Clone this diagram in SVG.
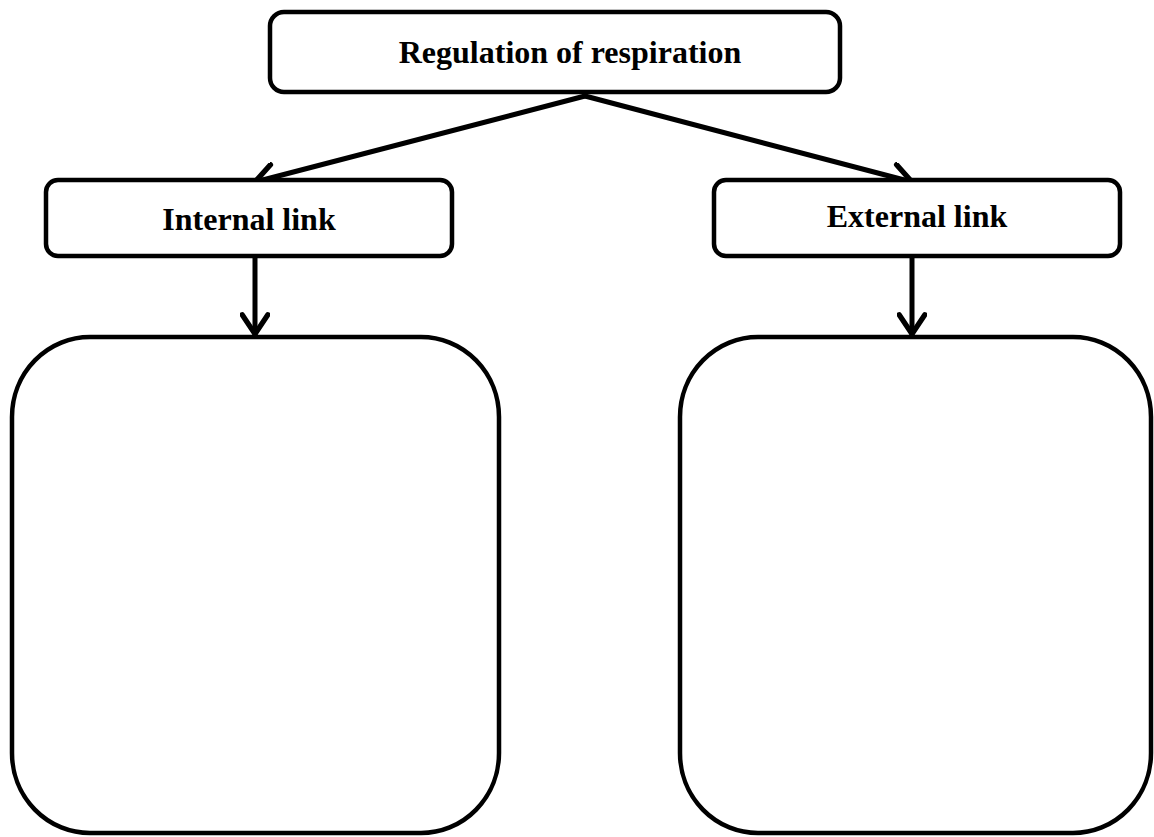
<svg xmlns="http://www.w3.org/2000/svg" width="1154" height="837" viewBox="0 0 1154 837">
  <style>
    .box { fill: #fff; stroke: #000; stroke-width: 4.5; }
    .big { fill: #fff; stroke: #000; stroke-width: 4.5; }
    .label { font-family: "Liberation Serif", "Times New Roman", serif; font-weight: bold; font-size: 32px; fill: #000; text-anchor: middle; }
    .conn { stroke: #000; stroke-width: 5; fill: none; stroke-linecap: round; }
  </style>
  <defs>
    <marker id="chev" markerUnits="userSpaceOnUse" markerWidth="30" markerHeight="30" viewBox="-22 -14 26 28" refX="0" refY="0" orient="auto">
      <path d="M-18,-12 L0,0 L-18,12" fill="none" stroke="#000" stroke-width="5" stroke-linecap="round" stroke-linejoin="miter"/>
    </marker>
  </defs>

  <rect width="1154" height="837" fill="#fff"/>

  <g id="connectors">
    <path class="conn" d="M585,96 L255,182" marker-end="url(#chev)"/>
    <path class="conn" d="M585,96 L912,182" marker-end="url(#chev)"/>
    <path class="conn" d="M255,258 L255,334" marker-end="url(#chev)"/>
    <path class="conn" d="M912,258 L912,334" marker-end="url(#chev)"/>
  </g>

  <g id="regulation">
    <rect class="box" x="270" y="12" width="570" height="80" rx="14"/>
    <text class="label" x="570" y="63">Regulation of respiration</text>
  </g>

  <g id="internal">
    <rect class="box" x="46" y="180" width="406" height="76" rx="12"/>
    <text class="label" x="249" y="230">Internal link</text>
  </g>

  <g id="external">
    <rect class="box" x="714" y="180" width="406" height="76" rx="12"/>
    <text class="label" x="917" y="227">External link</text>
  </g>

  <g id="internal-content">
    <rect class="big" x="12" y="337" width="487" height="496" rx="78" ry="80"/>
  </g>

  <g id="external-content">
    <rect class="big" x="680" y="337" width="471" height="496" rx="78" ry="80"/>
  </g>
</svg>
